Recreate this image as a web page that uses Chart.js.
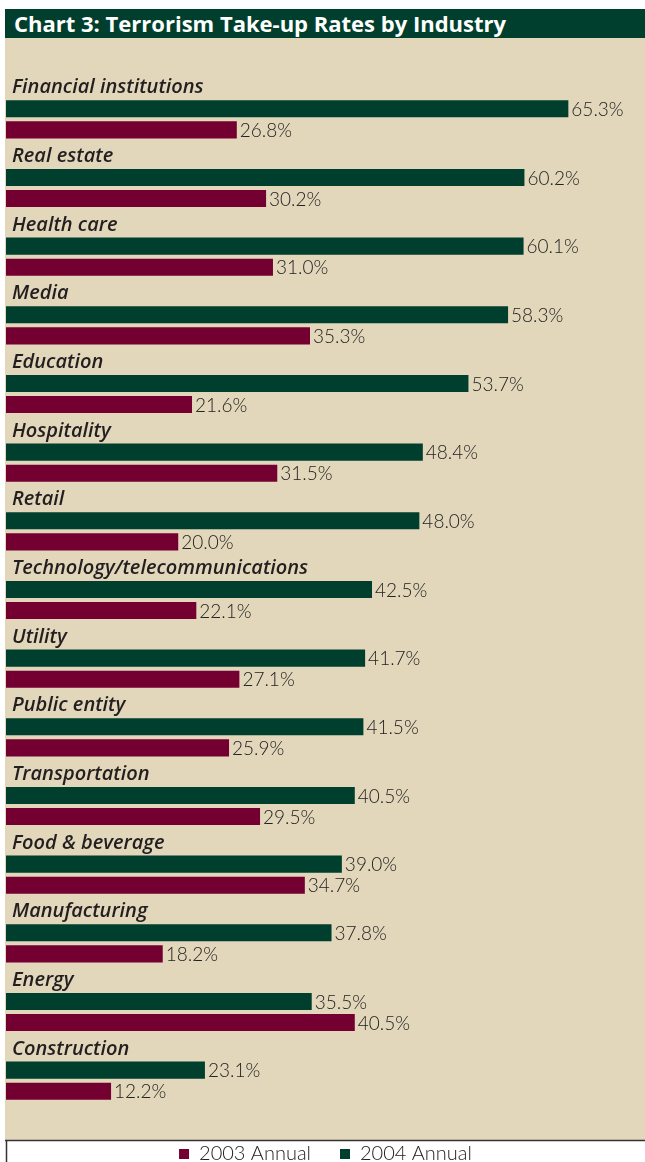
<!DOCTYPE html>
<html>
<head>
<meta charset="utf-8">
<script src="https://cdn.jsdelivr.net/npm/chart.js@4.4.1/dist/chart.umd.min.js"></script>
<style>
  html, body { margin: 0; padding: 0; background: #fff; overflow: hidden; }
  #title {
    position: absolute; left: 5px; top: 9px; width: 640px; height: 30px;
    background: #003f2d; color: #fff;
    font: bold 22px "Open Sans", sans-serif; line-height: 29px;
    padding-left: 9px; box-sizing: border-box; white-space: nowrap;
  }
  #wrap { position: absolute; left: 5px; top: 38px; width: 640px; height: 1136px; }
</style>
</head>
<body>
<div id="title">Chart 3: Terrorism Take-up Rates by Industry</div>
<div id="wrap"><canvas id="chart"></canvas></div>
<script>
// Terrorism take-up rates by industry, 2004 vs 2003
const industries = [
  'Financial institutions', 'Real estate', 'Health care', 'Media', 'Education',
  'Hospitality', 'Retail', 'Technology/telecommunications', 'Utility', 'Public entity',
  'Transportation', 'Food & beverage', 'Manufacturing', 'Energy', 'Construction'
];
const rates2004 = [65.3, 60.2, 60.1, 58.3, 53.7, 48.4, 48.0, 42.5, 41.7, 41.5, 40.5, 39.0, 37.8, 35.5, 23.1];
const rates2003 = [26.8, 30.2, 31.0, 35.3, 21.6, 31.5, 20.0, 22.1, 27.1, 25.9, 29.5, 34.7, 18.2, 40.5, 12.2];

const GREEN = '#003f2d';
const MAROON = '#730030';
const BEIGE = '#e2d7bb';

// beige panel + white legend strip with its border
const backdrop = {
  id: 'backdrop',
  beforeDraw(chart) {
    const c = chart.ctx;
    const legendTop = 1102;
    c.save();
    c.fillStyle = BEIGE;
    c.fillRect(0, 0, chart.width, legendTop);
    c.fillStyle = '#fff';
    c.fillRect(0, legendTop, chart.width, chart.height - legendTop);
    c.strokeStyle = '#333';
    c.lineWidth = 1.5;
    c.beginPath();
    c.moveTo(0, legendTop + 0.5);
    c.lineTo(chart.width, legendTop + 0.5);
    c.moveTo(1.5, legendTop);
    c.lineTo(1.5, chart.height);
    c.stroke();
    c.restore();
  }
};

// industry names above each pair, percentages after each bar
const labels = {
  id: 'labels',
  afterDatasetsDraw(chart) {
    const c = chart.ctx;
    const y = chart.scales.y;
    const left = chart.chartArea.left;
    c.save();
    c.fillStyle = '#231f20';
    c.textBaseline = 'alphabetic';
    c.font = 'italic 600 20px "Open Sans", sans-serif';
    industries.forEach((name, i) => {
      c.fillText(name, left + 6, y.getPixelForValue(i) - 26);
    });
    c.font = '300 19px Lato, sans-serif';
    c.fillStyle = '#222';
    c.textBaseline = 'middle';
    chart.data.datasets.forEach((ds, di) => {
      chart.getDatasetMeta(di).data.forEach((bar, i) => {
        c.fillText(ds.data[i].toFixed(1) + '%', bar.x + 3, bar.y + 1);
      });
    });
    c.restore();
  }
};

new Chart(document.getElementById('chart'), {
  type: 'bar',
  data: {
    labels: industries,
    datasets: [
      { label: '2004 Annual', data: rates2004, backgroundColor: GREEN },
      { label: '2003 Annual', data: rates2003, backgroundColor: MAROON }
    ]
  },
  options: {
    indexAxis: 'y',
    responsive: true,
    maintainAspectRatio: false,
    animation: false,
    categoryPercentage: 0.614,
    barPercentage: 0.81,
    layout: { padding: { left: 1, top: 47, bottom: 0 } },
    scales: {
      x: { display: false, min: 0, max: 74.2 },
      y: { display: false }
    },
    plugins: {
      title: { display: false },
      tooltip: { enabled: false },
      legend: {
        position: 'bottom',
        reverse: true,
        labels: {
          boxWidth: 10, boxHeight: 10, padding: 29,
          color: '#222',
          font: { family: 'Lato, sans-serif', size: 20, weight: 300 },
          generateLabels(chart) {
            return chart.data.datasets.map((ds, i) => ({
              text: ds.label, fillStyle: ds.backgroundColor, strokeStyle: ds.backgroundColor,
              lineWidth: 0, datasetIndex: i, fontColor: '#222'
            }));
          }
        }
      }
    }
  },
  plugins: [backdrop, labels]
});
</script>
</body>
</html>
